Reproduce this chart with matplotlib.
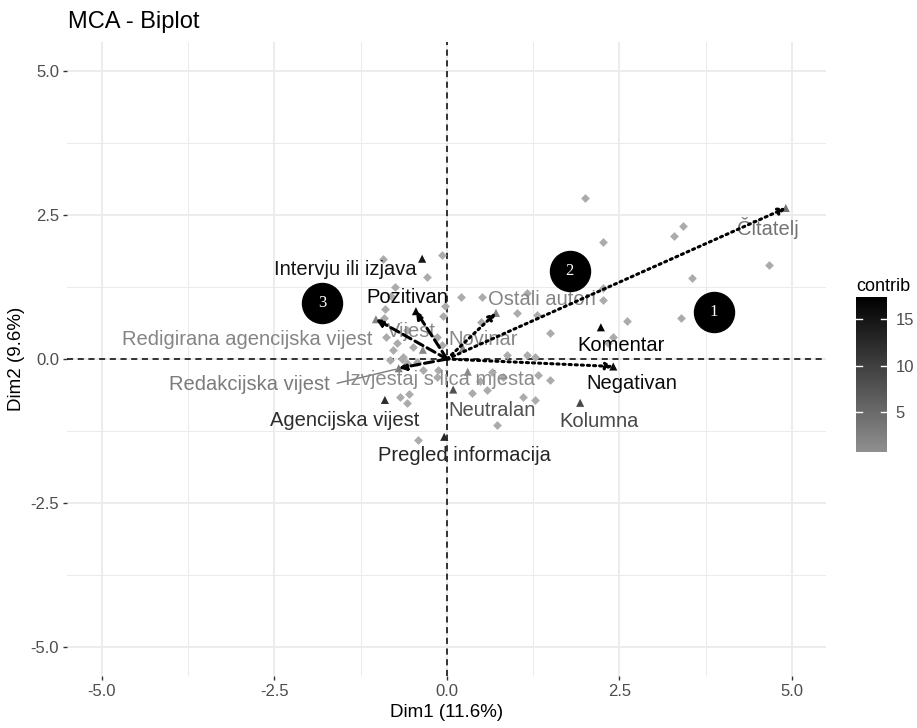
import matplotlib.pyplot as plt
import numpy as np
from matplotlib.colors import LinearSegmentedColormap, Normalize

plt.rcParams['font.family'] = ['Liberation Sans', 'DejaVu Sans']

# individuals (gray diamonds), Dim1 / Dim2
ind_x = [-0.93, -0.07, -0.29, -0.75, -0.90, -0.03, 0.20, -0.06, -0.91, -0.58,
         -0.72, -0.78, -0.64, -0.49, -0.14, -0.07, 1.01, 1.16, 1.30, 1.49,
         0.87, 1.16, 1.28, 2.26, 2.26, 2.26, 2.61, 2.41, 2.33, 2.00,
         3.29, 3.42, 3.55, 4.67, 3.39, -0.83, -0.65, -0.58, -0.35, -0.13,
         -0.68, -0.55, -0.58, -0.42, 0.36, 0.58, 0.65, 0.81, 1.10, 1.32,
         1.49, 1.28, 0.72, -0.14, 0.49, 0.51, -0.44, 0.48, -0.88, -0.81]
ind_y = [1.74, 1.81, 1.42, 1.25, 0.87, 0.92, 1.08, 0.75, 0.71, 0.50,
         0.28, 0.16, 0.03, 0.21, 0.38, 0.24, 0.80, 1.15, 0.76, 0.45,
         0.07, 0.07, 0.03, 2.03, 1.02, 1.23, 0.66, 0.38, 0.28, 2.80,
         2.14, 2.31, 1.41, 1.63, 0.71, -0.02, 0.00, -0.07, -0.19, -0.19,
         -0.66, -0.61, -0.76, -1.41, -0.59, -0.54, -0.23, -0.31, -0.66, -0.28,
         -0.36, -0.71, -1.15, -0.31, 0.64, 1.08, -0.05, -0.39, 0.38, 1.10]

# variable categories, coordinates and contributions
var_names = ['Čitatelj', 'Intervju ili izjava', 'Pozitivan', 'Ostali autori',
             'Redigirana agencijska vijest', 'Vijest', 'Novinar', 'Komentar',
             'Negativan', 'Redakcijska vijest', 'Izvjestaj s lica mjesta',
             'Agencijska vijest', 'Neutralan', 'Kolumna', 'Pregled informacija']
var_x = [4.91, -0.36, -0.45, 0.71, -1.03, -0.35, 0.23, 2.23, 2.41, -0.70,
         0.30, -0.90, 0.09, 1.93, -0.04]
var_y = [2.62, 1.74, 0.83, 0.80, 0.69, 0.16, 0.19, 0.55, -0.13, -0.16,
         -0.22, -0.71, -0.53, -0.76, -1.35]
var_contrib = [4.0, 15.0, 16.5, 2.0, 2.0, 1.5, 1.5, 17.0, 16.0, 3.0,
               1.2, 12.0, 8.0, 9.0, 13.0]
# repelled label positions
lab_x = [4.65, -1.48, -0.58, 1.38, -2.90, -0.51, 0.52, 2.52, 2.68, -2.86,
         -0.10, -1.48, 0.65, 2.20, 0.25]
lab_y = [2.27, 1.56, 1.06, 1.04, 0.33, 0.47, 0.33, 0.23, -0.43, -0.45,
         -0.36, -1.06, -0.89, -1.09, -1.68]

# arrows drawn from the origin
dashed_to = ['Pozitivan', 'Redigirana agencijska vijest', 'Redakcijska vijest']
dotted_to = ['Ostali autori', 'Čitatelj', 'Negativan']

# numbered cluster markers
circ_x = [3.87, 1.78, -1.81]
circ_y = [0.82, 1.53, 0.97]
circ_lab = ['1', '2', '3']

cmap = LinearSegmentedColormap.from_list('contrib', ['#8f8f8f', '#000000'])
norm = Normalize(vmin=0.7, vmax=17.4)

fig = plt.figure(figsize=(9.17, 7.28), dpi=100)
ax = fig.add_axes([0.0736, 0.0714, 0.8277, 0.8709])
ax.set_xlim(-5.5, 5.5)
ax.set_ylim(-5.5, 5.5)
for s in ax.spines.values():
    s.set_visible(False)

ticks = [-5.0, -2.5, 0.0, 2.5, 5.0]
minor = [-3.75, -1.25, 1.25, 3.75]
ax.set_xticks(ticks)
ax.set_yticks(ticks)
ax.set_xticklabels(['%.1f' % t for t in ticks])
ax.set_yticklabels(['%.1f' % t for t in ticks])
ax.set_xticks(minor, minor=True)
ax.set_yticks(minor, minor=True)
ax.tick_params(which='major', length=3, width=1, color='#333333',
               labelcolor='#4d4d4d', labelsize=12, pad=3)
ax.tick_params(which='minor', length=0)
ax.grid(which='major', color='#ebebeb', lw=1.3)
ax.grid(which='minor', color='#ebebeb', lw=0.7)
ax.set_axisbelow(True)

ax.axhline(0, color='black', ls=(0, (4, 3)), lw=1.1, zorder=1)
ax.axvline(0, color='black', ls=(0, (4, 3)), lw=1.1, zorder=1)

ax.scatter(ind_x, ind_y, marker='D', s=20, color='#ababab', lw=0, zorder=2)

ax.scatter(var_x, var_y, marker='^', s=34, c=var_contrib, cmap=cmap,
           norm=norm, lw=0, zorder=3)

# connector for the label pushed far left
ri = var_names.index('Redakcijska vijest')
ax.plot([lab_x[ri] + 1.27, var_x[ri] - 0.05], [lab_y[ri] + 0.03, var_y[ri] - 0.02],
        color=cmap(norm(var_contrib[ri])), lw=1, zorder=3)

for nm, xx, yy, c in zip(var_names, lab_x, lab_y, var_contrib):
    ax.text(xx, yy, nm, ha='center', va='center', fontsize=14.5,
            color=cmap(norm(c)), zorder=4)

for names, style in [(dashed_to, (0, (3, 1.5))), (dotted_to, (0, (0.7, 1.3)))]:
    for nm in names:
        i = var_names.index(nm)
        ax.annotate('', xy=(var_x[i], var_y[i]), xytext=(0, 0),
                    arrowprops=dict(arrowstyle='-|>', color='black', lw=2.2,
                                    ls=style, mutation_scale=10,
                                    shrinkA=0, shrinkB=0), zorder=5)

ax.scatter(circ_x, circ_y, s=830, color='black', zorder=6)
for xx, yy, t in zip(circ_x, circ_y, circ_lab):
    ax.text(xx, yy, t, ha='center', va='center', color='white', fontsize=12,
            family='Liberation Serif', zorder=7)

ax.set_xlabel('Dim1 (11.6%)', fontsize=13.5, labelpad=3)
ax.set_ylabel('Dim2 (9.6%)', fontsize=13.5, labelpad=4)
fig.text(0.074, 0.970, 'MCA - Biplot', fontsize=17, ha='left', va='center')

# colour bar for contrib
cax = fig.add_axes([0.9335, 0.3791, 0.0338, 0.2129])
sm = plt.cm.ScalarMappable(norm=norm, cmap=cmap)
cb = fig.colorbar(sm, cax=cax)
cb.outline.set_visible(False)
cb.set_ticks([5, 10, 15])
cax.tick_params(length=0, labelsize=12, labelcolor='#4d4d4d', pad=6)
tr = cax.get_yaxis_transform()
for v in [5, 10, 15]:
    cax.plot([0, 0.2], [v, v], color='white', lw=1, transform=tr)
    cax.plot([0.8, 1], [v, v], color='white', lw=1, transform=tr)
fig.text(0.934, 0.606, 'contrib', fontsize=13, ha='left', va='center')

fig.savefig('out.png', dpi=100)
